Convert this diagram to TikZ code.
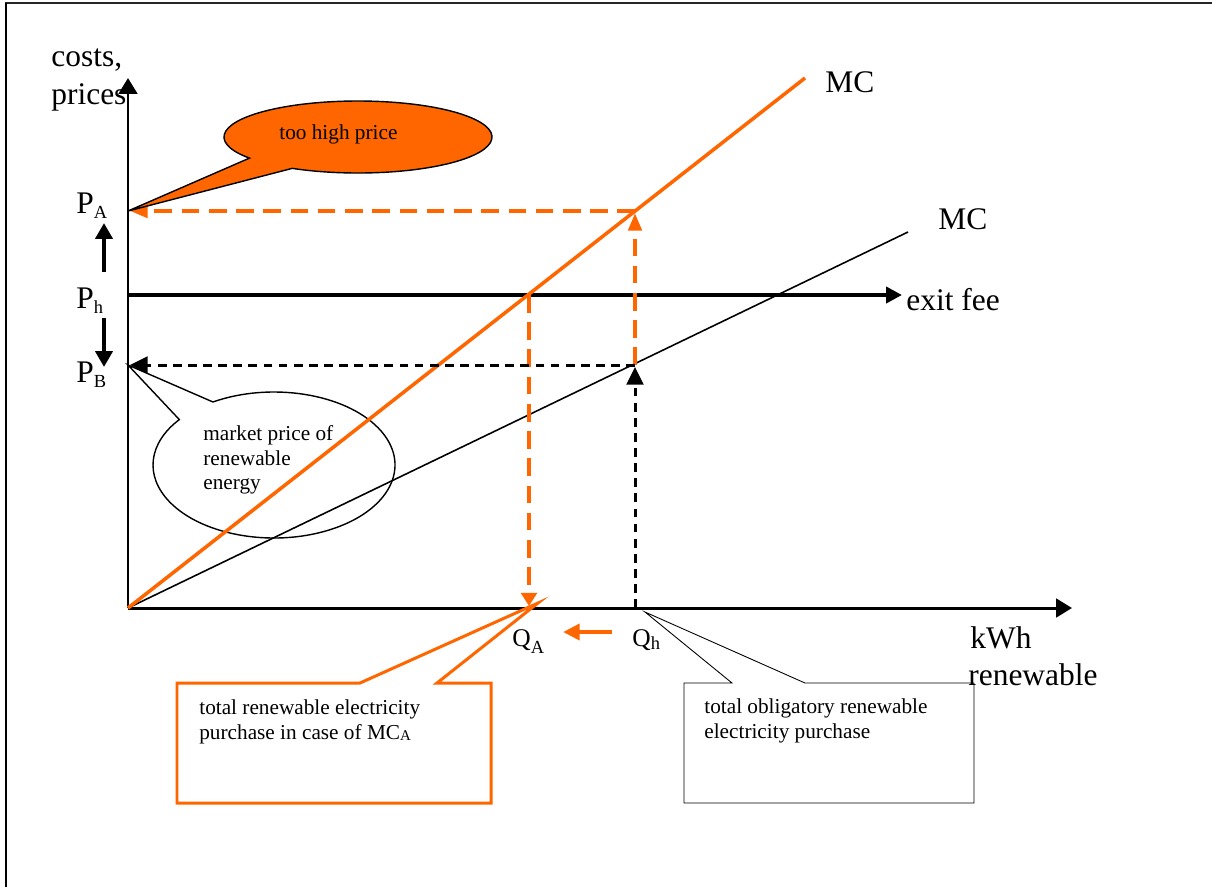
\documentclass[tikz,border=0pt]{standalone}
\usepackage{fontspec}
\setmainfont{Liberation Serif}
\usetikzlibrary{arrows.meta}
\definecolor{orng}{RGB}{255,102,0}
\newcommand\mysub[2]{\raisebox{-#1}{\fontsize{10.5}{12}\selectfont #2}}
\tikzset{
  big/.style={font=\fontsize{17.9}{20}\selectfont, inner sep=0pt, anchor=base west},
  mid/.style={font=\fontsize{14.5}{16}\selectfont, inner sep=0pt, anchor=base west},
  small/.style={font=\fontsize{12.1}{14}\selectfont, inner sep=0pt, anchor=base west},
  axisline/.style={line width=1.7pt, -{Triangle[length=9pt,width=10.5pt]}},
  feeline/.style={line width=2.8pt, -{Triangle[length=9pt,width=9pt]}},
  odash/.style={draw=orng, line width=2.3pt, dash pattern=on 10pt off 5.5pt},
  bdash/.style={draw=black, line width=1.7pt, dash pattern=on 5pt off 3.6pt},
  otip/.style={-{Triangle[length=10pt,width=7.5pt]}},
  btip/.style={-{Triangle[length=10pt,width=9.5pt]}},
  smallarrow/.style={line width=2.3pt, -{Triangle[length=9pt,width=9.6pt]}},
}
\begin{document}
\begin{tikzpicture}[x=0.02cm,y=-0.02cm]
\useasboundingbox (0,0) rectangle (1212,887);
% frame
\coordinate (FL) at (5,3);
\coordinate (FR) at (1212,3);
\coordinate (FB) at (6,887);
\draw[line width=1.1pt, black!85] (FL) -- (FR);
\draw[line width=1.7pt] (6,3) -- (FB);

% key points
\coordinate (O) at (128,608);
\coordinate (Ytip) at (128,78);
\coordinate (Xtip) at (1072,608);
\coordinate (MCAend) at (805,78);
\coordinate (MCend) at (908,232);
\coordinate (PA) at (128,211);
\coordinate (PAtip) at (130,211);
\coordinate (PB) at (128,365);
\coordinate (PBtip) at (130,365);
\coordinate (Ph) at (128,295);
\coordinate (EFtip) at (902,295);
\coordinate (A) at (635,211);
\coordinate (Atip) at (635,213);
\coordinate (B) at (635,365);
\coordinate (Btip) at (635,367);
\coordinate (Qh) at (635,608);
\coordinate (C) at (529,295);
\coordinate (QAtip) at (529,606);

% axes
\draw[axisline] (O) -- (Ytip);
\draw[axisline] (O) -- (Xtip);
\draw[feeline] (Ph) -- (EFtip);

% market price callout (no fill)
\draw[line width=0.8pt] ({274+121*cos(239.7)},{465+73*sin(239.7)})
  arc[start angle=239.7, end angle=578.5, x radius=121, y radius=73] -- (PB) -- cycle;

% MC lines
\draw[line width=0.9pt] (O) -- (MCend);
\draw[orng, line width=2pt] (O) -- (MCAend);

% dashed guides
\draw[odash, otip] (B) -- (Atip);
\draw[odash, otip] (A) -- (PAtip);
\draw[odash, -{Triangle[length=7.5pt,width=9pt]}] (C) -- (QAtip);
\draw[bdash, btip] (Qh) -- (Btip);
\draw[bdash, btip] (B) -- (PBtip);

% small arrows
\coordinate (UpS) at (104,272);
\coordinate (UpT) at (104,223);
\coordinate (DnS) at (104,318);
\coordinate (DnT) at (104,367);
\draw[smallarrow] (UpS) -- (UpT);
\draw[smallarrow] (DnS) -- (DnT);
\coordinate (OaS) at (612,632);
\coordinate (OaT) at (563,632);
\draw[orng, line width=2.8pt, -{Triangle[length=9.5pt,width=9pt]}] (OaS) -- (OaT);

% too high price callout
\draw[fill=orng, line width=0.8pt] ({358+134*cos(144.1)},{137+36*sin(144.1)})
  arc[start angle=144.1, end angle=479.4, x radius=134, y radius=36] -- (PA) -- cycle;
\node[small] (thp) at (279,139) {too high price};

\node[small] (mp1) at (203,440) {market price of};
\node[small] (mp2) at (203,465) {renewable};
\node[small] (mp3) at (203,489) {energy};

% orange box callout
\coordinate (QAc) at (538,603);
\draw[orng, line width=1.7pt, fill=white, line join=miter]
  (177,683) -- (360,683) -- (QAc) -- (437,683) -- (491,683) -- (491,803) -- (177,803) -- cycle;
\node[small] (ob1) at (199,714) {total renewable electricity};
\node[small] (ob2) at (199,739) {purchase in case of MC\raisebox{-1pt}{\fontsize{8.5}{10}\selectfont A}};

% black box callout
\coordinate (Qhc) at (645,612);
\draw[line width=0.5pt, fill=white]
  (684,683) -- (732,683) -- (Qhc) -- (805,683) -- (974,683) -- (974,803) -- (684,803) -- cycle;
\node[small] (bb1) at (704,713) {total obligatory renewable};
\node[small] (bb2) at (704,738) {electricity purchase};

% labels
\node[big] (costs) at (51,66) {costs,};
\node[big] (prices) at (51,104) {prices};
\node[big] (lPA) at (76,213) {P\mysub{3pt}{A}};
\node[big] (lPh) at (76,308) {P\mysub{3pt}{h}};
\node[big] (lPB) at (76,382) {P\mysub{3pt}{B}};
\node[big] (lMCA) at (825,92) {MC};
\node[big] (lMC) at (938,229) {MC};
\node[big] (lexit) at (906,310) {exit fee};
\node[mid] (lQA) at (512,646) {Q\mysub{4pt}{A}};
\node[mid] (lQh) at (632,646) {Q\mysub{2pt}{h}};
\node[big] (lkwh) at (970,648) {kWh};
\node[big] (lren) at (968,685) {renewable};
\end{tikzpicture}
\end{document}
